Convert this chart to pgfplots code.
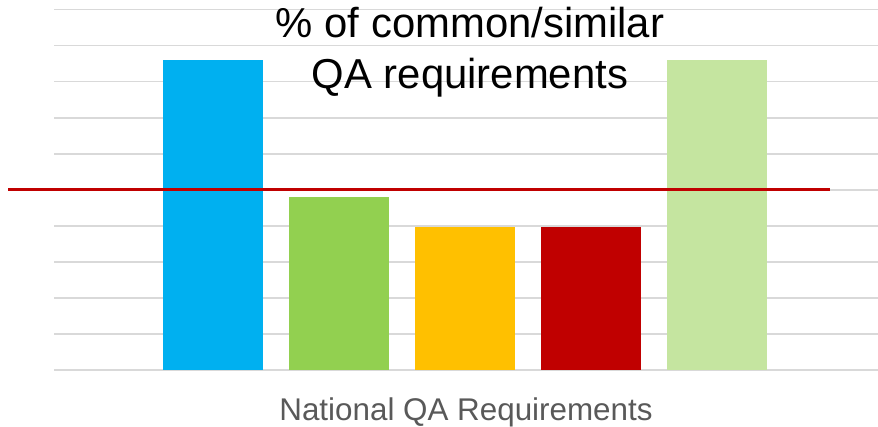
\documentclass[border=0pt]{standalone}
\usepackage{pgfplots}
\pgfplotsset{compat=1.18}
\usepackage{fontspec}
\setmainfont{Liberation Sans}
\definecolor{cblue}{HTML}{00B0F0}
\definecolor{cgreen}{HTML}{92D050}
\definecolor{cyellow}{HTML}{FFC000}
\definecolor{cred}{HTML}{C00000}
\definecolor{clgreen}{HTML}{C5E5A0}
\definecolor{cgrid}{HTML}{D9D9D9}
\definecolor{clabel}{HTML}{595959}
\begin{document}
\begin{tikzpicture}
\begin{axis}[
  at={(0,0)}, anchor=south west,
  scale only axis, width=824bp, height=360.5bp,
  xmin=-0.262, xmax=6.278, ymin=0, ymax=100,
  ytick={0,10,...,100}, yticklabels={},
  xtick=\empty,
  ymajorgrids, grid style={cgrid, line width=1.8bp},
  axis line style={draw=none},
  major tick length=0pt,
  clip=false,
]
\addplot[ybar, bar shift=0pt, bar width=100bp, fill=cblue, draw=none] coordinates {(1,86)};
\addplot[ybar, bar shift=0pt, bar width=100bp, fill=cgreen, draw=none] coordinates {(2,48)};
\addplot[ybar, bar shift=0pt, bar width=100bp, fill=cyellow, draw=none] coordinates {(3,39.7)};
\addplot[ybar, bar shift=0pt, bar width=100bp, fill=cred, draw=none] coordinates {(4,39.7)};
\addplot[ybar, bar shift=0pt, bar width=100bp, fill=clgreen, draw=none] coordinates {(5,86)};
\addplot[draw=cred, line width=3.5bp, mark=none] coordinates {(-0.627,50) (5.897,50)};
\end{axis}
\node[anchor=base, inner sep=0pt, font=\fontsize{42}{50}\selectfont] at (416bp,332.5bp) {\% of common/similar};
\node[anchor=base, inner sep=0pt, font=\fontsize{42}{50}\selectfont] at (416bp,281bp) {QA requirements};
\node[anchor=base, inner sep=0pt, text=clabel, font=\fontsize{31.5}{38}\selectfont] at (412bp,-50bp) {National QA Requirements};
\pgfresetboundingbox
\path[use as bounding box] (-54bp,-57bp) rectangle (824bp,370bp);
\end{tikzpicture}
\end{document}
